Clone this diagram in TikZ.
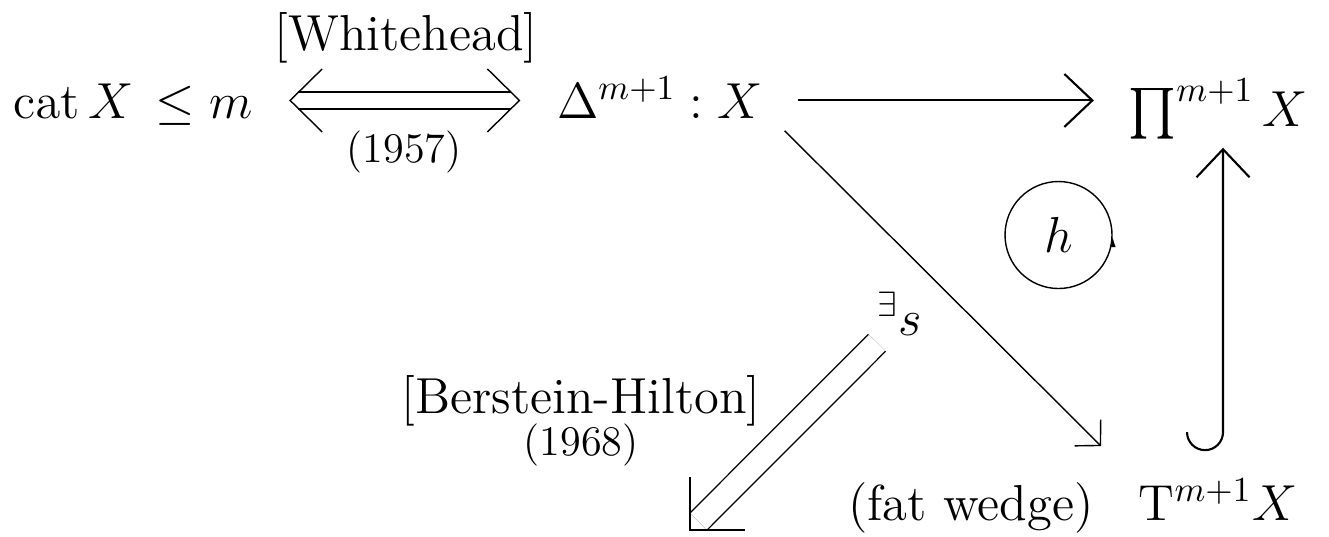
\documentclass[tikz,border=0pt]{standalone}
\usepackage{exscale}
\usepackage{tikz}
\usetikzlibrary{arrows.meta}

\begin{document}
\begin{tikzpicture}[
    obj/.style={inner sep=0pt, text height=12pt, text depth=2pt, anchor=base, font=\Large},
    lbl/.style={inner sep=0pt, anchor=base, font=\Large},
    year/.style={inner sep=0pt, anchor=base, font=\large},
    arr/.style={line width=0.6pt, -{Straight Barb[length=0.28cm, width=0.53cm]}},
    diag/.style={thin, -{Straight Barb[length=0.18cm, width=0.37cm]}},
    dbl/.style={double, double distance=#1},
  ]
  \useasboundingbox (0,0) rectangle (13.29,-5.36);

  % objects
  \node[obj] (cat) at (1.33,-1.18) {$\mathrm{cat}\,X\,\le m$};
  \node[obj] (delta) at (6.60,-1.18) {$\Delta^{m+1} : X$};
  \node[obj] (prod) at (12.18,-1.26) {$\prod^{m+1} X$};
  \node[obj] (tx) at (12.18,-5.20) {$\mathrm{T}^{m+1}X$};
  \node[obj] (es) at (9.00,-3.35) {$^\exists s$};

  % labels
  \node[lbl] (wh) at (4.06,-0.50) {[Whitehead]};
  \node[year] (y57) at (4.04,-1.62) {(1957)};
  \node[lbl] (bh) at (5.81,-4.13) {[Berstein-Hilton]};
  \node[year] (y68) at (5.81,-4.55) {(1968)};
  \node[lbl] (fw) at (9.71,-5.20) {(fat wedge)};

  % Whitehead equivalence
  \draw[line width=0.6pt, dbl=0.149cm, shorten <=0.45cm, shorten >=0.45cm] (cat.east) -- (delta.west);
  \draw[thin] ([xshift=0.37cm]cat.east) ++(0.32,0.315) -- ++(-0.32,-0.315) -- ++(0.32,-0.315);
  \draw[thin] ([xshift=-0.37cm]delta.west) ++(-0.32,0.315) -- ++(0.32,-0.315) -- ++(-0.32,-0.315);

  % diagonal and product
  \draw[arr, shorten <=0.34cm, shorten >=0.34cm] (delta.east) -- (delta.east -| prod.west);
  \draw[diag] ([shift={(0.21,-0.05)}]delta.south east) -- ([shift={(-0.37,0.31)}]tx.north west);

  % inclusion of the fat wedge
  \draw[arr, shorten >=0.14cm] ([shift={(-0.31,0.45)}]tx.north)
    arc[start angle=180, end angle=360, radius=0.18] -- ([xshift=0.05cm]prod.south);

  % homotopy
  \node[circle, draw, thin, minimum size=1.07cm, inner sep=0pt, font=\Large] (h) at (10.585,-2.35) {$h$};
  \draw[-{Latex[length=0.1cm, width=0.06cm]}] ([yshift=-0.12cm]h.east) -- ([yshift=-0.02cm]h.east);

  % section s
  \coordinate (sEnd) at (6.90,-5.30);
  \draw[thin, dbl=0.226cm, shorten >=0.12cm] (es.south west) -- (sEnd);
  \draw[thin] (sEnd) ++(0,0.53) -- ++(0,-0.53) -- ++(0.55,0);
\end{tikzpicture}
\end{document}
